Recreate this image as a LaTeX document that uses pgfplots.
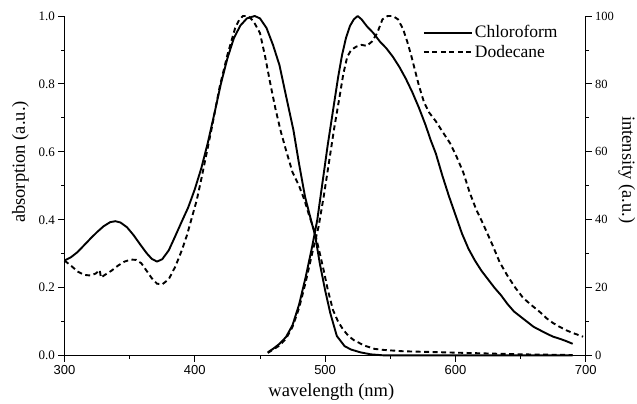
\documentclass[border=0pt]{standalone}
\usepackage{fontspec}
\setmainfont{Liberation Serif}
\setsansfont{Liberation Sans}
\usepackage{pgfplots}
\pgfplotsset{compat=1.18}

\begin{document}
\begin{tikzpicture}
\pgfplotsset{
  base/.style={
    width=521.2pt, height=339.7pt, scale only axis,
    xmin=300, xmax=700,
    tick align=outside,
    major tick length=6pt, minor tick length=3pt,
    every tick/.style={black, line width=0.9pt},
    /pgf/number format/assume math mode=true,
    clip=false,
  },
  absline/.style={black, line width=1.9pt, line join=round},
  dashline/.style={black, line width=1.9pt, dash pattern=on 5pt off 3.5pt},
}
\begin{axis}[base,
  axis x line*=bottom, axis y line*=left,
  ymin=0, ymax=1,
  xtick={300,400,500,600,700}, minor x tick num=1,
  ytick={0,0.2,0.4,0.6,0.8,1}, minor y tick num=1,
  yticklabel style={/pgf/number format/fixed, /pgf/number format/fixed zerofill,
    /pgf/number format/precision=1, font=\fontsize{13}{15}\selectfont},
  xticklabel style={font=\fontsize{13}{15}\selectfont\sffamily},
  xlabel={wavelength (nm)}, ylabel={absorption (a.u.)},
  every axis x label/.style={at={(axis description cs:0.512,0)}, yshift=-36pt, anchor=center,
    font=\fontsize{18.5}{20}\selectfont},
  every axis y label/.style={at={(axis description cs:0,0.57)}, xshift=-44pt, anchor=center,
    rotate=90, font=\fontsize{18.5}{20}\selectfont},
  axis line style={line width=1.4pt},
]
\coordinate (o) at (rel axis cs:0,0);
% chloroform absorption
\addplot[absline] table {
300 0.280
305 0.290
310 0.305
315 0.325
320 0.345
325 0.364
330 0.381
335 0.393
339 0.396
343 0.392
348 0.378
353 0.355
358 0.328
363 0.302
367 0.285
371 0.277
375 0.284
380 0.310
385 0.352
390 0.395
395 0.437
400 0.490
405 0.552
410 0.627
415 0.712
420 0.800
425 0.875
430 0.935
435 0.972
440 0.993
446 1.000
450 0.993
455 0.965
460 0.915
465 0.855
470 0.765
475.7 0.664
480 0.565
484.6 0.468
489.8 0.390
492.3 0.355
496 0.270
500 0.193
504 0.125
509 0.058
515 0.028
520 0.018
527 0.010
535 0.004
545 0.001
600 0.001
690 0.001
};
% dodecane absorption
\addplot[dashline] table {
300 0.280
305 0.265
310 0.248
315 0.238
320 0.236
324 0.242
327 0.252
328 0.230
331 0.238
336 0.250
341 0.265
346 0.277
351 0.283
355 0.282
359 0.272
363 0.250
367 0.228
371 0.212
375 0.210
380 0.225
385 0.262
390 0.310
394 0.355
398 0.410
401.5 0.458
405 0.520
408 0.576
413 0.670
419 0.790
425 0.885
431 0.965
434 0.988
437 1.000
441 1.000
445 0.985
450 0.950
454 0.880
458 0.800
462 0.725
466 0.660
470 0.605
475 0.540
480 0.500
484 0.460
488 0.410
492 0.365
496 0.300
499 0.250
502 0.195
506 0.135
510 0.100
514 0.076
518 0.058
522 0.046
530 0.030
538 0.020
545 0.017
560 0.013
580 0.011
600 0.009
620 0.007
650 0.004
690 0.002
};
\end{axis}

\begin{axis}[base,
  axis x line=none, axis y line*=right,
  ymin=0, ymax=100,
  ytick={0,20,40,60,80,100}, minor y tick num=1,
  yticklabel style={font=\fontsize{12.5}{14}\selectfont},
  ylabel={intensity (a.u.)},
  every axis y label/.style={at={(axis description cs:1,0.547)}, xshift=41pt, anchor=center,
    rotate=-90, font=\fontsize{18.5}{20}\selectfont},
  axis line style={line width=1pt},
  legend style={at={(rel axis cs:0.6875,0.978)}, anchor=north west, draw=none, fill=none,
    font=\fontsize{17.5}{20}\selectfont, inner sep=0pt, row sep=2pt,
    nodes={inner sep=2pt}},
  legend cell align=left,
  legend image code/.code={\draw[#1] (0pt,0pt) -- (48pt,0pt);},
]
% chloroform emission
\addplot[absline] table {
456 1.0
460 2.0
465 3.5
470 5.5
475 9
480 15
485 23
490 32
494 40
498 51
502 62
506 72
510 82
513 88.5
516 93.5
519 97
522 99
525 100
528 99
532 97
537 95
542 92.5
547 90.5
552 88
557 85
562 81.5
567 77.5
572 73
577 68
581 63.5
585 59.5
590 53
595 47
600 41.5
605 36
610 31.5
615 28
620 25
625 22.5
630 20
635 17.8
640 15.2
645 13
650 11.5
655 10
660 8.5
665 7.5
670 6.5
675 5.6
680 5
685 4.3
690 3.5
};
\addlegendentry{Chloroform}
% dodecane emission
\addplot[dashline] table {
456 0.8
460 1.8
465 3
470 5
475 8.5
480 14
485 21.5
490 30
495 38
499 47
503 57
507 67
511 76
514 83
517 88
520 90
524 91
528 91.5
532 91.2
536 92.5
540 95
544 99
548 100
552 100
556 99
560 96
563 92.5
566 88.5
569 84
572 79.5
576 74.5
580 71.5
585 69
590 66
596 62.5
601 58.5
606 54
611 48
616 43
621 39
628 33
634 27.5
640 23.5
646 20
652 17
658 15
665 12.8
670 11
675 9.6
680 8.5
685 7.5
690 6.7
698 5.6
};
\addlegendentry{Dodecane}
\end{axis}
\pgfresetboundingbox
\path[use as bounding box] (o) ++(-64.5pt,-48.3pt) rectangle ++(637pt,404pt);
\end{tikzpicture}
\end{document}
